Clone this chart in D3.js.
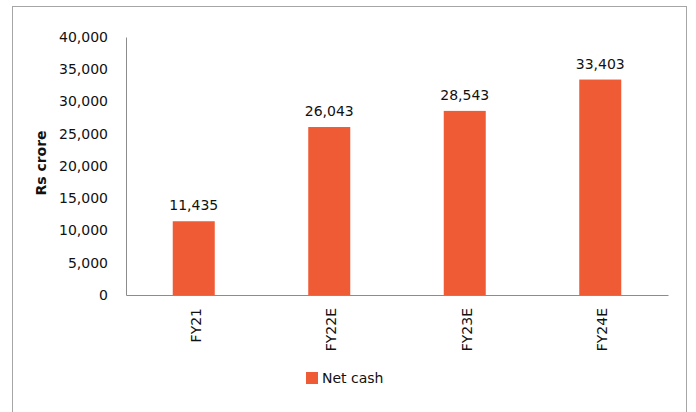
<!DOCTYPE html>
<html>
<head>
<meta charset="utf-8">
<script src="https://cdn.jsdelivr.net/npm/d3@7"></script>
<style>
  body { margin: 0; background: #fff; }
  svg { display: block; }
</style>
</head>
<body>
<svg id="chart" width="696" height="412"></svg>
<script>
// data
var categories = ["FY21", "FY22E", "FY23E", "FY24E"];
var netCash = [11435, 26043, 28543, 33403];
var yTicks = [0, 5000, 10000, 15000, 20000, 25000, 30000, 35000, 40000];
var seriesName = "Net cash";
var yTitle = "Rs crore";

var svg = d3.select("svg#chart");
var barColor = "#EF5B35";
var font = "DejaVu Sans, sans-serif";

// outer frame
svg.append("rect")
  .attr("x", 12.5).attr("y", 6.5)
  .attr("width", 674).attr("height", 420)
  .style("fill", "none").style("stroke", "#a6a6a6");

var margin = {top: 37, left: 126, right: 28, bottom: 117};
var chartWidth = 668 - margin.left;
var chartHeight = 295 - margin.top;

var xScale = d3.scaleBand().domain(categories).range([0, chartWidth]).paddingInner(0.69).paddingOuter(0.345);
var yScale = d3.scaleLinear().domain([0, 40000]).range([chartHeight, 0]);

var g = svg.append("g").attr("transform", "translate(" + margin.left + "," + margin.top + ")");

// bars
g.selectAll("rect.bar").data(netCash).enter().append("rect")
  .attr("class", "bar")
  .attr("x", function (d, i) { return xScale(categories[i]); })
  .attr("y", function (d) { return yScale(d); })
  .attr("width", xScale.bandwidth())
  .attr("height", function (d) { return chartHeight - yScale(d); })
  .style("fill", barColor);

// data labels
g.selectAll("text.lbl").data(netCash).enter().append("text")
  .attr("class", "lbl")
  .attr("x", function (d, i) { return xScale(categories[i]) + xScale.bandwidth() / 2; })
  .attr("y", function (d) { return yScale(d) - 11; })
  .attr("text-anchor", "middle")
  .style("font", "14px " + font).style("fill", "#111")
  .text(function (d) { return d3.format(",")(d); });

// y axis
var leftAxis = d3.axisLeft(yScale).tickValues(yTicks).tickSize(0).tickPadding(18).tickFormat(d3.format(","));
var ya = g.append("g").attr("class", "y axis").call(leftAxis);
ya.select(".domain").attr("stroke", "#8c8c8c");
ya.selectAll("text").style("font", "14px " + font).style("fill", "#111");

// x axis
var bottomAxis = d3.axisBottom(xScale).tickSize(0).tickPadding(0);
var xa = g.append("g").attr("class", "x axis").attr("transform", "translate(0," + chartHeight + ")").call(bottomAxis);
xa.select(".domain").attr("stroke", "#8c8c8c");
xa.selectAll("text")
  .style("font", "14px " + font).style("fill", "#111")
  .attr("text-anchor", "end")
  .attr("dy", "0.35em")
  .attr("transform", "translate(2,13) rotate(-90)");

// y title
svg.append("text")
  .attr("transform", "translate(46,163) rotate(-90)")
  .attr("text-anchor", "middle")
  .style("font", "bold 14px " + font).style("fill", "#111")
  .text(yTitle);

// legend
svg.append("rect").attr("x", 306).attr("y", 372).attr("width", 12).attr("height", 12).style("fill", barColor);
svg.append("text").attr("x", 322).attr("y", 383)
  .style("font", "14px " + font).style("fill", "#111")
  .text(seriesName);
</script>
</body>
</html>
